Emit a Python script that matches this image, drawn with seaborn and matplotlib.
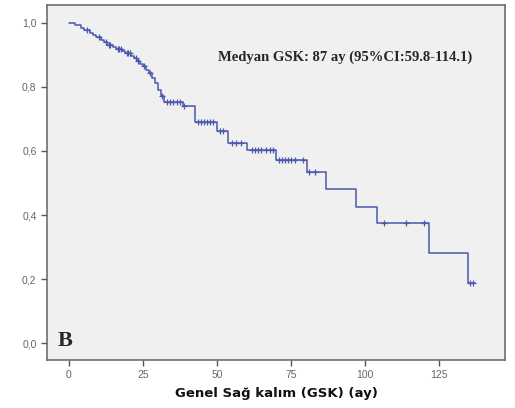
#!/usr/bin/env python3

"""
Kaplan-Meier overall survival curve (panel B).
"""

import numpy as np
import pandas as pd
import seaborn as sns
import matplotlib.pyplot as plt
from matplotlib.ticker import FuncFormatter

# step curve: event time (months) and survival after it
event_months = [0, 2, 4, 5, 7, 8, 9, 11, 12, 13, 15, 16, 18, 19, 21, 22, 23,
                24, 25, 26, 27, 28, 29, 30, 31, 32, 38.5, 42.6, 50, 53.7, 60,
                70, 80.4, 86.8, 97, 104, 121.6, 134.8, 137]
survival = [1.0, 0.993, 0.985, 0.978, 0.97, 0.962, 0.955, 0.947, 0.94, 0.932,
            0.925, 0.918, 0.911, 0.905, 0.898, 0.89, 0.882, 0.873, 0.864,
            0.853, 0.844, 0.828, 0.812, 0.79, 0.772, 0.752, 0.742, 0.692,
            0.662, 0.625, 0.603, 0.572, 0.534, 0.481, 0.425, 0.375, 0.28,
            0.1875, 0.1875]

# censored observations (months)
censored_months = [6, 10, 12.5, 13.5, 14, 16.5, 17, 17.5, 19.5, 20, 20.5, 22.5,
                   23.5, 25.5, 27.5, 31.5, 33, 34, 35, 36.5, 37.5, 39, 43.5,
                   44.5, 45.5, 46.5, 47.5, 48.5, 51, 52, 55, 56.5, 58, 62, 63,
                   64, 65, 66.5, 68, 69, 71, 72, 73, 74, 75, 76.5, 79, 81, 83,
                   106.4, 113.9, 120, 135.5, 136.5]

x_ticks = [0, 25, 50, 75, 100, 125]
y_ticks = [0.0, 0.2, 0.4, 0.6, 0.8, 1.0]

line_color = "#4a58ad"


def main():
    sns.set_style("ticks", {"axes.facecolor": "#f0f0f0",
                            "axes.edgecolor": "#6e6e6e"})
    plt.rcParams["font.family"] = ["Liberation Sans", "DejaVu Sans"]

    fig = plt.figure(figsize=(5.15, 4.08), dpi=100)
    ax = fig.add_axes([0.0913, 0.1176, 0.8893, 0.8701])

    curve = pd.DataFrame({"month": event_months, "surv": survival})
    sns.lineplot(data=curve, x="month", y="surv", drawstyle="steps-post",
                 estimator=None, color=line_color, linewidth=1.1, ax=ax)

    # survival at each censor time from the step function
    idx = np.searchsorted(np.array(event_months), censored_months, side="right") - 1
    cens = pd.DataFrame({"month": censored_months,
                         "surv": np.array(survival)[idx]})
    sns.scatterplot(data=cens, x="month", y="surv", marker="+", s=22,
                    color=line_color, linewidth=0.9, ax=ax)

    ax.set_xlim(-7.4, 147.3)
    ax.set_ylim(-0.053, 1.056)
    ax.set_xticks(x_ticks)
    ax.set_yticks(y_ticks)
    ax.yaxis.set_major_formatter(FuncFormatter(lambda v, p: f"{v:.1f}".replace(".", ",")))
    ax.tick_params(axis="both", labelsize=7.5, labelcolor="#666666",
                   color="#555555", length=4, width=1)
    for side in ax.spines.values():
        side.set_linewidth(1.2)

    ax.set_xlabel("Genel Sağ kalım (GSK) (ay)", family="DejaVu Sans",
                  fontsize=9.5, fontweight="bold", labelpad=5, color="#111111")
    ax.set_ylabel("")

    ax.text(50.3, 0.894, "Medyan GSK: 87 ay (95%CI:59.8-114.1)",
            family="Liberation Serif", fontweight="bold", fontsize=10.5,
            va="center", ha="left")
    ax.text(-3.7, -0.01, "B", family="Liberation Serif", fontweight="bold",
            fontsize=16, va="baseline", ha="left")

    fig.savefig("out.png", dpi=100)


if __name__ == "__main__":
    main()
